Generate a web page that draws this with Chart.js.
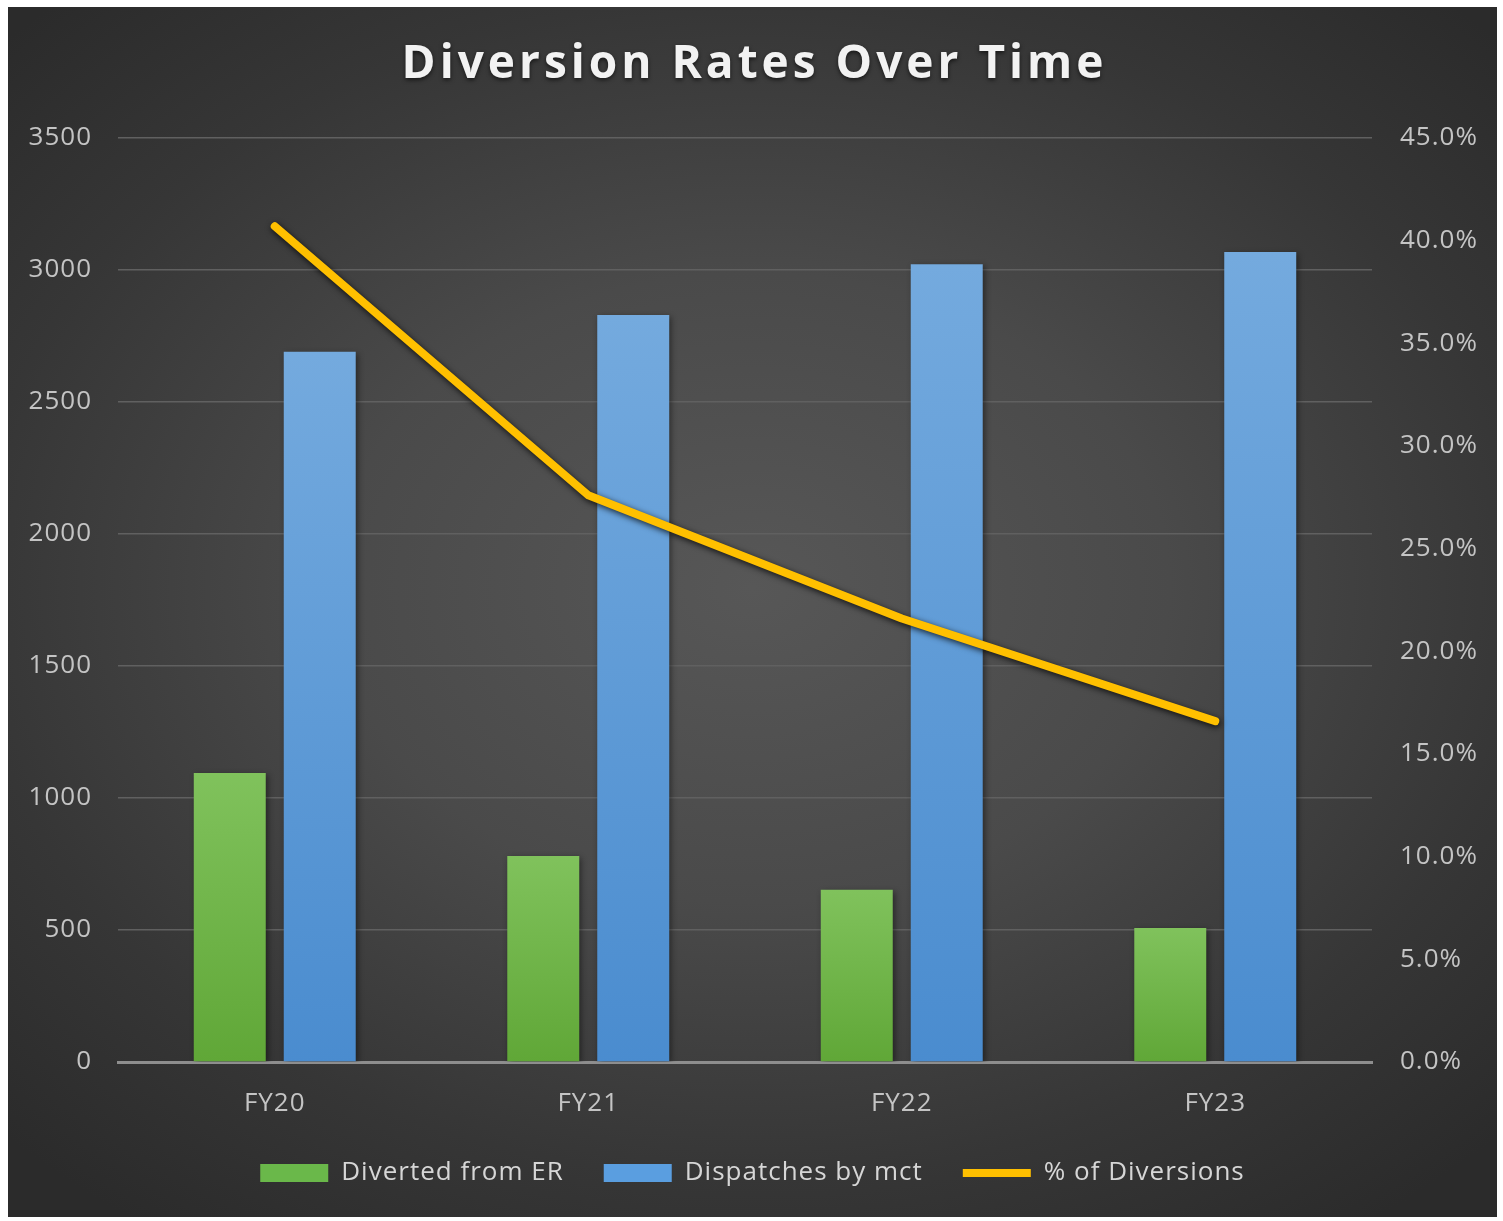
<!DOCTYPE html>
<html>
<head>
<meta charset="utf-8">
<title>Diversion Rates Over Time</title>
<script src="https://cdn.jsdelivr.net/npm/chart.js@4/dist/chart.umd.min.js"></script>
<style>
  html, body { margin: 0; padding: 0; background: #ffffff; }
  #panel {
    position: absolute; left: 8px; top: 7px; width: 1489px; height: 1210px;
    background: radial-gradient(ellipse 70% 65% at 50% 48%, #575757 0%, #4a4a4a 40%, #363636 75%, #2b2b2b 100%);
  }
</style>
</head>
<body>
<div id="panel"><canvas id="chart"></canvas></div>
<script>
// Fiscal years and yearly counts
const categories = ['FY20', 'FY21', 'FY22', 'FY23'];
const divertedFromER = [1095, 780, 652, 508];
const dispatchesByMct = [2690, 2830, 3022, 3068];
// Share of dispatches diverted from the ER, in percent
const pctDiversions = [40.7, 27.6, 21.6, 16.6];

const titleText = 'Diversion Rates Over Time';
const FONT = "'Open Sans', 'Liberation Sans', sans-serif";

// Vertical gradient per bar, from its top down to the baseline
function barGradient(top, bottom) {
  return function (context) {
    const chart = context.chart;
    const { ctx, chartArea, scales } = chart;
    if (!chartArea || context.type !== 'data') return bottom;
    const yTop = scales.y.getPixelForValue(context.raw);
    const yBase = scales.y.getPixelForValue(0);
    const g = ctx.createLinearGradient(0, yTop, 0, yBase);
    g.addColorStop(0, top);
    g.addColorStop(1, bottom);
    return g;
  };
}

// Slightly open tracking for all axis and legend text
const trackingPlugin = {
  id: 'tracking',
  beforeUpdate(chart) { chart.ctx.letterSpacing = '1px'; },
  beforeDraw(chart) { chart.ctx.letterSpacing = '1px'; }
};

// Title drawn with letter spacing above the plot
const titlePlugin = {
  id: 'spacedTitle',
  afterDraw(chart) {
    const ctx = chart.ctx;
    ctx.save();
    ctx.font = 'bold 46px ' + FONT;
    ctx.letterSpacing = '4px';
    ctx.textAlign = 'center';
    ctx.textBaseline = 'middle';
    ctx.shadowColor = 'rgba(0,0,0,0.6)';
    ctx.shadowBlur = 4;
    ctx.shadowOffsetY = 2;
    ctx.fillStyle = '#f2f2f2';
    ctx.fillText(titleText, chart.width / 2 + 2, 58);
    ctx.restore();
  }
};

// Soft drop shadow under bars and the line
const shadowPlugin = {
  id: 'markShadow',
  beforeDatasetDraw(chart, args) {
    const ctx = chart.ctx;
    ctx.save();
    const isLine = args.meta.type === 'line';
    ctx.shadowColor = isLine ? 'rgba(0,0,0,0.8)' : 'rgba(0,0,0,0.45)';
    ctx.shadowBlur = isLine ? 6 : 6;
    ctx.shadowOffsetX = isLine ? 1 : 2;
    ctx.shadowOffsetY = 2;
  },
  afterDatasetDraw(chart) {
    chart.ctx.restore();
  }
};

const legendOrder = ['Diverted from ER', 'Dispatches by mct', '% of Diversions'];
const legendColors = { 'Diverted from ER': '#6ab84a', 'Dispatches by mct': '#5a9ee0', '% of Diversions': '#ffc000' };

new Chart(document.getElementById('chart'), {
  type: 'bar',
  data: {
    labels: categories,
    datasets: [
      {
        type: 'line',
        label: '% of Diversions',
        data: pctDiversions,
        yAxisID: 'y1',
        borderColor: '#ffc000',
        backgroundColor: '#ffc000',
        borderWidth: 8,
        pointRadius: 0,
        pointHoverRadius: 0,
        borderJoinStyle: 'round',
        borderCapStyle: 'round',
        tension: 0,
        order: 0
      },
      {
        label: 'Diverted from ER',
        data: divertedFromER,
        yAxisID: 'y',
        backgroundColor: barGradient('#80c25c', '#60a737'),
        borderWidth: 0,
        categoryPercentage: 0.574,
        barPercentage: 0.8,
        order: 1
      },
      {
        label: 'Dispatches by mct',
        data: dispatchesByMct,
        yAxisID: 'y',
        backgroundColor: barGradient('#74aade', '#4a8ccf'),
        borderWidth: 0,
        categoryPercentage: 0.574,
        barPercentage: 0.8,
        order: 1
      }
    ]
  },
  options: {
    responsive: true,
    maintainAspectRatio: false,
    animation: false,
    layout: { padding: { top: 131, left: 0, right: 0, bottom: 21 } },
    scales: {
      x: {
        offset: true,
        grid: { display: false, drawTicks: false },
        border: { display: true, color: '#8e8e8e', width: 3 },
        ticks: { color: '#c4c4c4', font: { family: FONT, size: 26 }, padding: 26 },
        afterFit(scale) { scale.height = 58; }
      },
      y: {
        position: 'left',
        min: 0,
        max: 3500,
        grid: { color: '#606060', lineWidth: 1.5, drawTicks: false },
        border: { display: false },
        ticks: {
          stepSize: 500,
          color: '#c4c4c4',
          font: { family: FONT, size: 26 },
          padding: 26,
          callback: (v) => String(v)
        },
        afterFit(scale) { scale.width = 110; }
      },
      y1: {
        position: 'right',
        min: 0,
        max: 45,
        grid: { display: false, drawTicks: false },
        border: { display: false },
        ticks: {
          stepSize: 5,
          color: '#c4c4c4',
          font: { family: FONT, size: 26 },
          padding: 28,
          callback: (v) => v.toFixed(1) + '%'
        },
        afterFit(scale) { scale.width = 125; }
      }
    },
    plugins: {
      title: { display: false },
      tooltip: { enabled: false },
      legend: {
        position: 'bottom',
        labels: {
          color: '#d6d6d6',
          font: { family: FONT, size: 26 },
          usePointStyle: true,
          pointStyleWidth: 68,
          boxHeight: 18,
          padding: 40,
          generateLabels(chart) {
            return chart.data.datasets
              .map((ds, i) => {
                const isLine = ds.type === 'line';
                return {
                  text: ds.label,
                  datasetIndex: i,
                  fillStyle: legendColors[ds.label],
                  strokeStyle: isLine ? legendColors[ds.label] : 'rgba(0,0,0,0)',
                  lineWidth: isLine ? 8 : 0,
                  pointStyle: isLine ? 'line' : 'rect',
                  fontColor: '#d6d6d6',
                  hidden: false
                };
              })
              .sort((a, b) => legendOrder.indexOf(a.text) - legendOrder.indexOf(b.text));
          }
        }
      }
    }
  },
  plugins: [trackingPlugin, titlePlugin, shadowPlugin]
});
</script>
</body>
</html>
